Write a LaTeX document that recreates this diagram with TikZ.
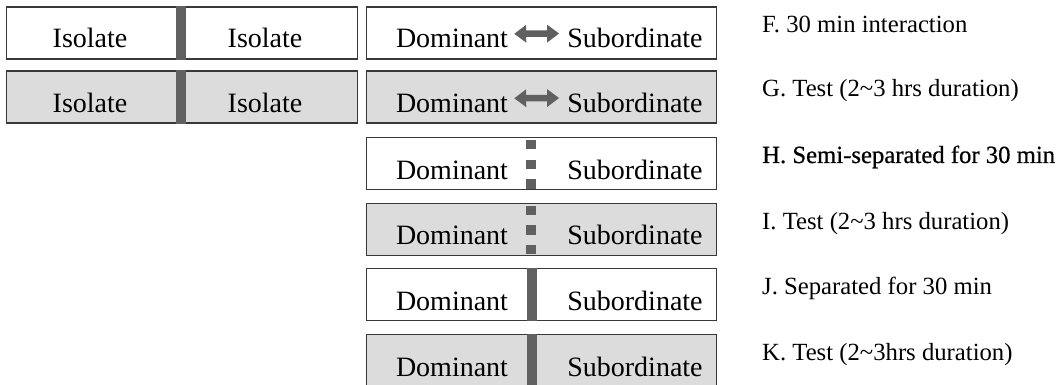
\documentclass[tikz,border=0pt]{standalone}
\usepackage{fontspec}
\setmainfont{Liberation Serif}
\usetikzlibrary{arrows.meta}
\definecolor{shade}{HTML}{DCDCDC}
\definecolor{barc}{HTML}{606060}
\definecolor{boxline}{HTML}{383838}
\begin{document}
\begin{tikzpicture}[x=1pt,y=-1pt,
  box/.style={draw=boxline, line width=1.3pt, minimum height=52pt,
    inner sep=0pt, anchor=north west},
  plain/.style={box, fill=white},
  shaded/.style={box, fill=shade},
  word/.style={font=\fontsize{28}{32}\selectfont, anchor=base, inner sep=0pt},
  steplabel/.style={font=\fontsize{24.7}{29}\selectfont, anchor=base west, inner sep=0pt},
  wall/.style={fill=barc},
  swap/.style={draw=barc, line width=6.5pt,
    {Triangle[length=12pt,width=17pt]}-{Triangle[length=12pt,width=17pt]}}
]
\useasboundingbox (0,0) rectangle (1060,385);

% isolation phase: two separate cages
\node[plain,  minimum width=351pt] (iso1) at (6,6.5) {};
\node[shaded, minimum width=351pt] (iso2) at (6,70.5) {};
\foreach \b in {iso1,iso2}{
  \fill[wall] ([xshift=-6.5pt]\b.north) rectangle ([xshift=3.5pt]\b.south);
}
\node[word] (i1a) at (90,48)  {Isolate};
\node[word] (i1b) at (265,48) {Isolate};
\node[word] (i2a) at (90,112.5)  {Isolate};
\node[word] (i2b) at (265,112.5) {Isolate};

% pairing phases
\node[plain,  minimum width=350pt] (r1) at (366,6.5) {};
\node[shaded, minimum width=350pt] (r2) at (366,70.5) {};
\node[plain,  minimum width=350pt] (r3) at (366,137) {};
\node[shaded, minimum width=350pt] (r4) at (366,202.5) {};
\node[plain,  minimum width=350pt] (r5) at (366,268) {};
\node[shaded, minimum width=350pt] (r6) at (366,334) {};

\foreach \r/\base in {1/48, 2/112.5, 3/179, 4/244.5, 5/310, 6/376}{
  \node[word] (d\r) at (452,\base) {Dominant};
  \node[word] (s\r) at (635,\base) {Subordinate};
}

% free interaction
\draw[swap, shorten <=6pt, shorten >=8pt] ([yshift=5pt]d1.east) -- ([yshift=5pt]s1.west);
\draw[swap, shorten <=6pt, shorten >=8pt] ([yshift=5pt]d2.east) -- ([yshift=5pt]s2.west);

% perforated partition
\foreach \b/\t in {r3/137, r4/202.5}{
  \foreach \o in {3,22.5,42}{
    \fill[wall] (526,\t+\o) rectangle (536,\t+\o+9.5);
  }
}
% solid partition
\fill[wall] ([xshift=-15pt]r5.north) rectangle ([xshift=-5pt]r5.south);
\fill[wall] ([xshift=-15pt]r6.north) rectangle ([xshift=-5pt]r6.south);

% phase descriptions
\node[steplabel] (lf) at (762,33)    {F. 30 min interaction};
\node[steplabel] (lg) at (762,97)    {G. Test (2\textasciitilde3 hrs duration)};
\node[steplabel, font=\fontsize{24.7}{29}\selectfont\addfontfeatures{FakeBold=0.6}] (lh) at (762,163) {H. Semi-separated for 30 min};
\node[steplabel] (li) at (762,229)   {I. Test (2\textasciitilde3 hrs duration)};
\node[steplabel] (lj) at (762,294)   {J. Separated for 30 min};
\node[steplabel] (lk) at (762,360)   {K. Test (2\textasciitilde3hrs duration)};
\end{tikzpicture}
\end{document}
